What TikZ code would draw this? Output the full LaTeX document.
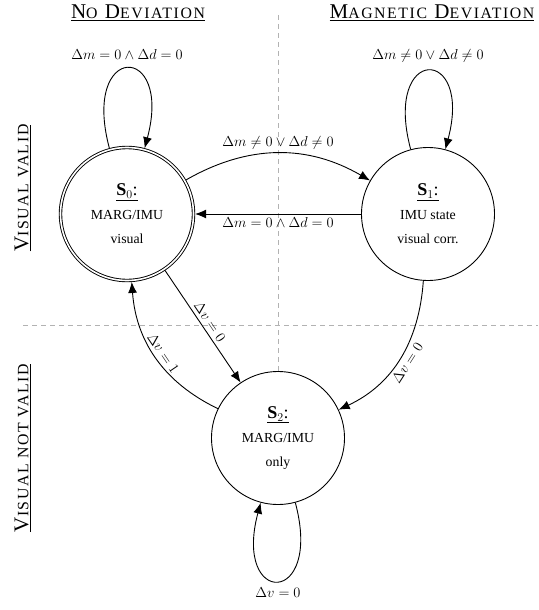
\documentclass[tikz,border=0pt]{standalone}
\usepackage{fontspec}
\setmainfont{Liberation Serif}
\usetikzlibrary{arrows.meta}
\newcommand\smallcapsz[1]{{\fontsize{15.8}{18}\selectfont #1}}
\newcommand\statehead[1]{{\fontsize{18}{24}\selectfont\underline{\textbf{S}$_{#1}$:}}}
\begin{document}
\begin{tikzpicture}[x=1pt,y=-1pt,
  state/.style={circle,draw,line width=0.9pt,minimum size=133pt,inner sep=0pt,align=center,
    font=\fontsize{13.8}{24}\selectfont},
  trans/.style={line width=0.9pt,-{Latex[length=11pt,width=9pt]}},
  lbl/.style={font=\fontsize{14.5}{17}\selectfont},
  divider/.style={black!30,line width=0.8pt,dash pattern=on 5pt off 4pt},
  heading/.style={font=\fontsize{21}{24}\selectfont\addfontfeatures{LetterSpace=10},inner sep=0pt}]
\useasboundingbox (0,0) rectangle (538,610);

% states
\node[state,double,double distance=1.6pt,outer sep=1.6pt] (S0) at (127,214)
  {\statehead{0}\\MARG/IMU\\visual};
\node[state] (S1) at (428,214) {\statehead{1}\\IMU state\\visual corr.};
\node[state] (S2) at (278,438) {\statehead{2}\\MARG/IMU\\only};

% dividers
\coordinate (vtop) at (278,15);
\coordinate (hleft) at (23,325);
\coordinate (hright) at (538,325);
\draw[divider] (vtop) -- (S2.north);
\draw[divider] (hleft) -- (hright);

% headings
\node[heading,anchor=base] (h0) at (138,19) {\underline{N\smallcapsz{O} D\smallcapsz{EVIATION}}};
\node[heading,anchor=base] (h1) at (432,19) {\underline{M\smallcapsz{AGNETIC} D\smallcapsz{EVIATION}}};
\node[heading,anchor=south,rotate=90] (v0) at (31,188) {\underline{V\smallcapsz{ISUAL VALID}}};
\node[heading,anchor=south,rotate=90] (v1) at (31,448) {\underline{V\smallcapsz{ISUAL NOT VALID}}};

% transitions
\draw[trans] (S0) to[loop above] node[lbl,above=5pt] {$\Delta m=0\wedge\Delta d=0$} (S0);
\draw[trans] (S1) to[loop above] node[lbl,above=5pt] {$\Delta m\neq0\vee\Delta d\neq0$} (S1);
\draw[trans] (S2) to[out=-75,in=-105,loop] node[lbl,below=3pt] {$\Delta v=0$} (S2);
\draw[trans] (S0) to[bend left=30] node[lbl,above] {$\Delta m\neq0\vee\Delta d\neq0$} (S1);
\draw[trans] (S1) -- node[lbl,below] {$\Delta m=0\wedge\Delta d=0$} (S0);
\draw[trans] (S0) -- node[lbl,sloped,above] {$\Delta v=0$} (S2);
\draw[trans] (S2) to[bend left=30] node[lbl,sloped,above] {$\Delta v=1$} (S0);
\draw[trans] (S1) to[out=-94,in=25] node[lbl,sloped,below] {$\Delta v=0$} (S2);
\end{tikzpicture}
\end{document}
